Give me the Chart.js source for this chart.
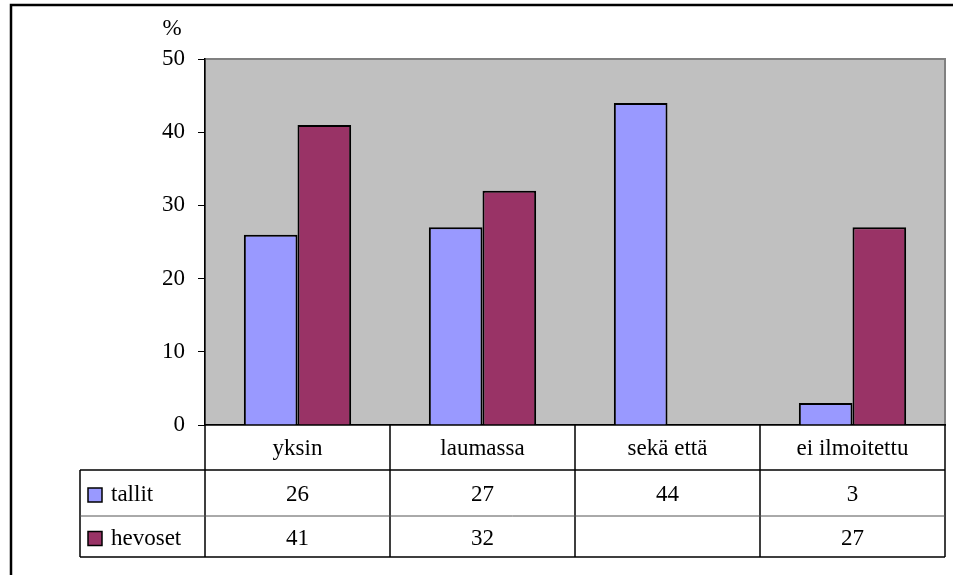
<!DOCTYPE html>
<html>
<head>
<meta charset="utf-8">
<script src="https://cdn.jsdelivr.net/npm/chart.js@4/dist/chart.umd.min.js"></script>
<style>
  html, body { margin: 0; padding: 0; background: #fff; }
  #wrap { width: 953px; height: 575px; position: relative; }
</style>
</head>
<body>
<div id="wrap"><canvas id="c" width="953" height="575"></canvas></div>
<script>
// Sijoitusmuoto: tallit ja hevoset (%)
const categories = ['yksin', 'laumassa', 'sekä että', 'ei ilmoitettu'];
const tallit = [26, 27, 44, 3];
const hevoset = [41, 32, null, 27];
const seriesNames = ['tallit', 'hevoset'];
const seriesColors = ['#9999FF', '#993366'];
const yTicks = [0, 10, 20, 30, 40, 50];
const unitLabel = '%';

const FONT = '"Liberation Serif", "Times New Roman", serif';
const FONT_SIZE = 23;

// Frame around the whole chart object, grey plot area and unit label
const framePlugin = {
  id: 'frame',
  beforeDraw(chart) {
    const ctx = chart.ctx;
    const a = chart.chartArea;
    ctx.save();
    ctx.fillStyle = '#ffffff';
    ctx.fillRect(0, 0, chart.width, chart.height);
    ctx.strokeStyle = '#000';
    ctx.lineWidth = 2.5;
    ctx.strokeRect(11, 5, chart.width + 20, chart.height + 20);
    ctx.fillStyle = '#C0C0C0';
    ctx.fillRect(a.left, a.top, a.right - a.left, a.bottom - a.top);
    ctx.strokeStyle = '#808080';
    ctx.lineWidth = 2;
    ctx.strokeRect(a.left, a.top, a.right - a.left, a.bottom - a.top);
    ctx.fillStyle = '#000';
    ctx.font = FONT_SIZE + 'px ' + FONT;
    ctx.textAlign = 'center';
    ctx.textBaseline = 'middle';
    ctx.fillText(unitLabel, 172, 29);
    ctx.restore();
  }
};

// Data table under the category axis
const tablePlugin = {
  id: 'dataTable',
  afterDraw(chart) {
    const ctx = chart.ctx;
    const x = chart.scales.x;
    const a = chart.chartArea;
    const n = categories.length;
    const step = (a.right - a.left) / n;
    const rowTop = a.bottom;          // category row top
    const row1 = rowTop + 45;         // tallit row top
    const row2 = row1 + 46;           // hevoset row top
    const rowEnd = row2 + 41;         // table bottom
    const legendLeft = 80;

    ctx.save();
    ctx.strokeStyle = '#000';
    ctx.lineWidth = 1.5;
    ctx.beginPath();
    for (let i = 0; i <= n; i++) {
      const xx = a.left + i * step;
      ctx.moveTo(xx, rowTop);
      ctx.lineTo(xx, rowEnd);
    }
    ctx.moveTo(legendLeft, row1);
    ctx.lineTo(legendLeft, rowEnd);
    ctx.moveTo(legendLeft, row1);
    ctx.lineTo(a.right, row1);
    ctx.moveTo(legendLeft, rowEnd);
    ctx.lineTo(a.right, rowEnd);
    ctx.stroke();

    ctx.strokeStyle = '#555';
    ctx.lineWidth = 1;
    ctx.beginPath();
    ctx.moveTo(legendLeft, row2);
    ctx.lineTo(a.right, row2);
    ctx.stroke();

    ctx.fillStyle = '#000';
    ctx.font = FONT_SIZE + 'px ' + FONT;
    ctx.textAlign = 'center';
    ctx.textBaseline = 'middle';
    categories.forEach((c, i) => {
      ctx.fillText(c, x.getPixelForValue(i), (rowTop + row1) / 2 + 1);
    });

    const rows = [[tallit, row1, row2], [hevoset, row2, rowEnd]];
    rows.forEach((r, si) => {
      const [vals, t, b] = r;
      const cy = (t + b) / 2 + 2;
      vals.forEach((v, i) => {
        if (v !== null) ctx.fillText(String(v), x.getPixelForValue(i), cy);
      });
      // legend key
      ctx.fillStyle = seriesColors[si];
      ctx.fillRect(88, cy - 7, 14, 14);
      ctx.strokeStyle = '#000';
      ctx.lineWidth = 1.5;
      ctx.strokeRect(88, cy - 7, 14, 14);
      ctx.fillStyle = '#000';
      ctx.textAlign = 'left';
      ctx.fillText(seriesNames[si], 111, cy);
      ctx.textAlign = 'center';
    });
    ctx.restore();
  }
};

new Chart(document.getElementById('c'), {
  type: 'bar',
  data: {
    labels: categories,
    datasets: [
      { label: seriesNames[0], data: tallit, backgroundColor: seriesColors[0],
        borderColor: '#000', borderWidth: 2 },
      { label: seriesNames[1], data: hevoset, backgroundColor: seriesColors[1],
        borderColor: '#000', borderWidth: 2 }
    ]
  },
  options: {
    responsive: false,
    animation: false,
    devicePixelRatio: 1,
    layout: { padding: { top: 59, right: 8, left: 0, bottom: 0 } },
    datasets: { bar: { categoryPercentage: 0.58, barPercentage: 1.0 } },
    plugins: { legend: { display: false }, tooltip: { enabled: false } },
    scales: {
      x: {
        ticks: { display: false },
        grid: { display: false },
        border: { display: true, color: '#000', width: 1.5 },
        afterFit(scale) { scale.height = 150; }
      },
      y: {
        min: 0, max: 50,
        afterBuildTicks(scale) { scale.ticks = yTicks.map(v => ({ value: v })); },
        ticks: {
          color: '#000',
          padding: 13,
          font: { family: FONT, size: FONT_SIZE }
        },
        grid: { drawOnChartArea: false, drawTicks: true, tickLength: 7, color: '#000', lineWidth: 1 },
        border: { display: true, color: '#000', width: 1.5 },
        afterFit(scale) { scale.width = 205; }
      }
    }
  },
  plugins: [framePlugin, tablePlugin]
});
</script>
</body>
</html>
